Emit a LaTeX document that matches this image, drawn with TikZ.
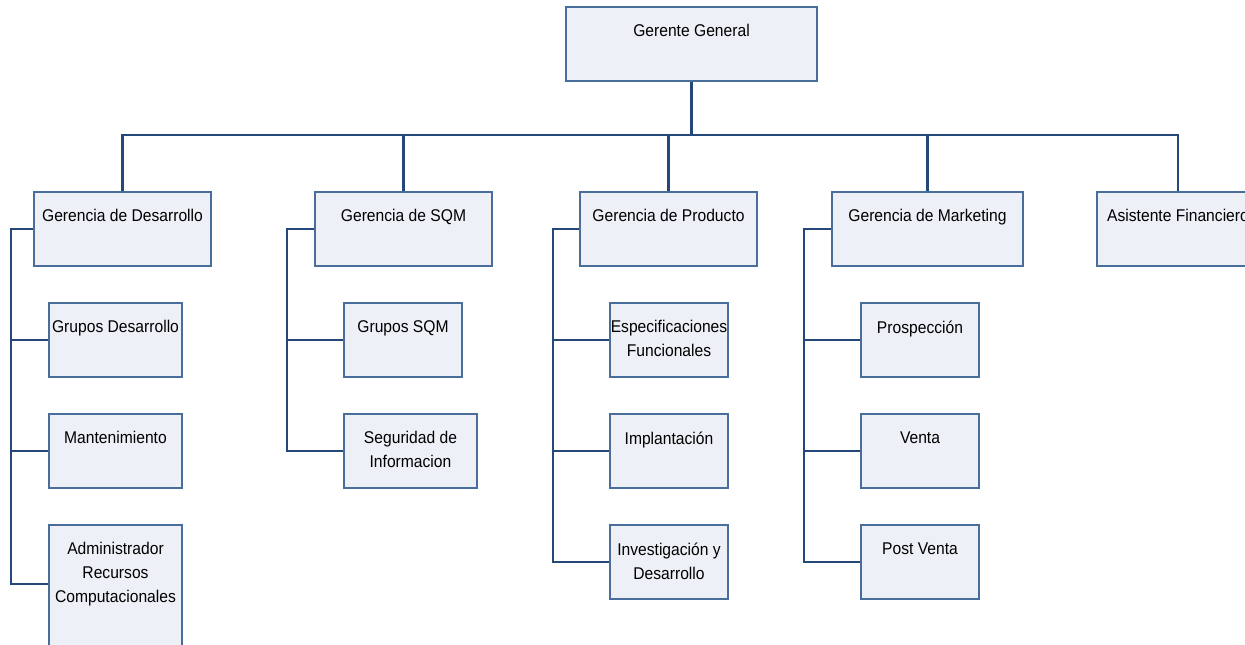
\documentclass[tikz,border=0pt]{standalone}
\usepackage{fontspec}
\setmainfont{Liberation Sans}[FakeStretch=0.92]
\definecolor{boxfill}{HTML}{EDF0F6}
\definecolor{boxedge}{HTML}{4A6E9C}
\definecolor{linkcol}{HTML}{24487A}
\tikzset{
  orgbox/.style={draw=boxedge, fill=boxfill, line width=1.2pt, inner sep=0pt, rectangle},
  orgtext/.style={anchor=north, inner sep=0pt, align=center, font=\fontsize{17}{24}\selectfont, text=black},
  link/.style={draw=linkcol, line width=2.2pt}
}
% \orgunit{name}{x1}{y1}{x2}{y2}{label}: box with its label set near the top
\newcommand\orgunit[6]{%
  \node[orgbox, minimum width={#4-#2}, minimum height={#5-#3}] (#1) at ({(#2+#4)/2},{(#3+#5)/2}) {};
  \node[orgtext] (#1-t) at ([yshift=-18pt]#1.north) {#6};
}
\begin{document}
\begin{tikzpicture}[x=1pt, y=-1pt]
\useasboundingbox (0,0) rectangle (1245,645);
\clip (0,0) rectangle (1245,645);

% bus level and the vertical spines of each department
\coordinate (bus) at (691.5,135);
\coordinate (spD) at (11,229);
\coordinate (spS) at (287,229);
\coordinate (spP) at (553,229);
\coordinate (spM) at (804,229);

% connectors first, boxes on top
\path[link] (691.5,81) -- (bus);
\path[link] (122.5,192) |- (bus);
\path[link] (403.5,192) |- (bus);
\path[link] (668.5,192) |- (bus);
\path[link] (927.5,192) |- (bus);
\path[link] (1178,192) |- (bus);

% top level
\orgunit{gg}{566}{7}{817}{81}{Gerente General}

% departments
\orgunit{gd}{34}{192}{211}{266}{Gerencia de Desarrollo}
\orgunit{gs}{315}{192}{492}{266}{Gerencia de SQM}
\orgunit{gp}{580}{192}{757}{266}{Gerencia de Producto}
\orgunit{gm}{832}{192}{1023}{266}{Gerencia de Marketing}
\orgunit{af}{1097}{192}{1259}{266}{Asistente Financiero}

% Desarrollo
\orgunit{gd1}{49}{303}{182}{377}{Grupos Desarrollo}
\orgunit{gd2}{49}{414}{182}{488}{Mantenimiento}
\orgunit{gd3}{49}{525}{182}{660}{Administrador\\Recursos\\Computacionales}
\draw[link] (gd.west) -- (spD) |- (gd1.west);
\draw[link] (spD) |- (gd2.west);
\draw[link] (spD) |- ([yshift=8.5pt]gd3.west);

% SQM
\orgunit{gs1}{344}{303}{462}{377}{Grupos SQM}
\orgunit{gs2}{344}{414}{477}{488}{Seguridad de\\Informacion}
\draw[link] (gs.west) -- (spS) |- (gs1.west);
\draw[link] (spS) |- (gs2.west);

% Producto
\orgunit{gp1}{610}{303}{728}{377}{Especificaciones\\Funcionales}
\orgunit{gp2}{610}{414}{728}{488}{Implantación}
\orgunit{gp3}{610}{525}{728}{599}{Investigación y\\Desarrollo}
\draw[link] (gp.west) -- (spP) |- (gp1.west);
\draw[link] (spP) |- (gp2.west);
\draw[link] (spP) |- (gp3.west);

% Marketing
\orgunit{gm1}{861}{303}{979}{377}{Prospección}
\orgunit{gm2}{861}{414}{979}{488}{Venta}
\orgunit{gm3}{861}{525}{979}{599}{Post Venta}
\draw[link] (gm.west) -- (spM) |- (gm1.west);
\draw[link] (spM) |- (gm2.west);
\draw[link] (spM) |- (gm3.west);
\end{tikzpicture}
\end{document}
